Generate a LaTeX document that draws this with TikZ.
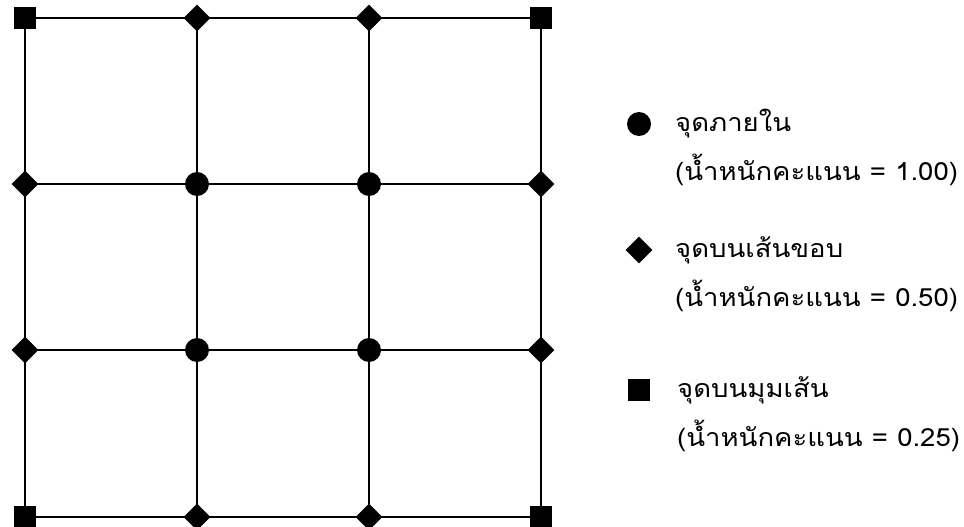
\documentclass[tikz,border=0pt]{standalone}
\usepackage{fontspec}
\newfontfamily\thaifont[Script=Thai,FakeStretch=1.1]{Loma}
\usetikzlibrary{shapes.geometric}
\begin{document}
\begin{tikzpicture}[x=1pt,y=-1pt,
  gridline/.style={line width=2pt,black},
  sqmark/.style={rectangle,fill=black,inner sep=0pt,minimum size=22pt},
  dimark/.style={diamond,fill=black,inner sep=0pt,minimum size=27pt},
  cimark/.style={circle,fill=black,inner sep=0pt,minimum size=24pt},
  legtext/.style={anchor=base west,inner sep=0pt,font=\thaifont\fontsize{25}{30}\selectfont}]
\useasboundingbox (0,0) rectangle (964,527);
% grid points
\foreach \i/\x in {0/25,1/197,2/369,3/541}{
  \foreach \j/\y in {0/18,1/184,2/350,3/517}{
    \coordinate (p\i\j) at (\x,\y);
  }
}
% grid lines
\foreach \k in {0,1,2,3}{
  \draw[gridline] (p\k0) -- (p\k3);
  \draw[gridline] (p0\k) -- (p3\k);
}
% corners
\foreach \n in {p00,p30,p03,p33}{ \node[sqmark] (m\n) at (\n) {}; }
% edges
\foreach \n in {p10,p20,p13,p23,p01,p02,p31,p32}{ \node[dimark] (m\n) at (\n) {}; }
% interior
\foreach \n in {p11,p21,p12,p22}{ \node[cimark] (m\n) at (\n) {}; }
% legend
\node[cimark] (lc) at (639,124) {};
\node[legtext] (lct1) at (675,131) {จุดภายใน};
\node[legtext] (lct2) at (675,180) {(น้ำหนักคะแนน = 1.00)};
\node[dimark] (ld) at (639,250) {};
\node[legtext] (ldt1) at (675,257) {จุดบนเส้นขอบ};
\node[legtext] (ldt2) at (675,306) {(น้ำหนักคะแนน = 0.50)};
\node[sqmark] (ls) at (639,390) {};
\node[legtext] (lst1) at (677,397) {จุดบนมุมเส้น};
\node[legtext] (lst2) at (677,446) {(น้ำหนักคะแนน = 0.25)};
\end{tikzpicture}
\end{document}
